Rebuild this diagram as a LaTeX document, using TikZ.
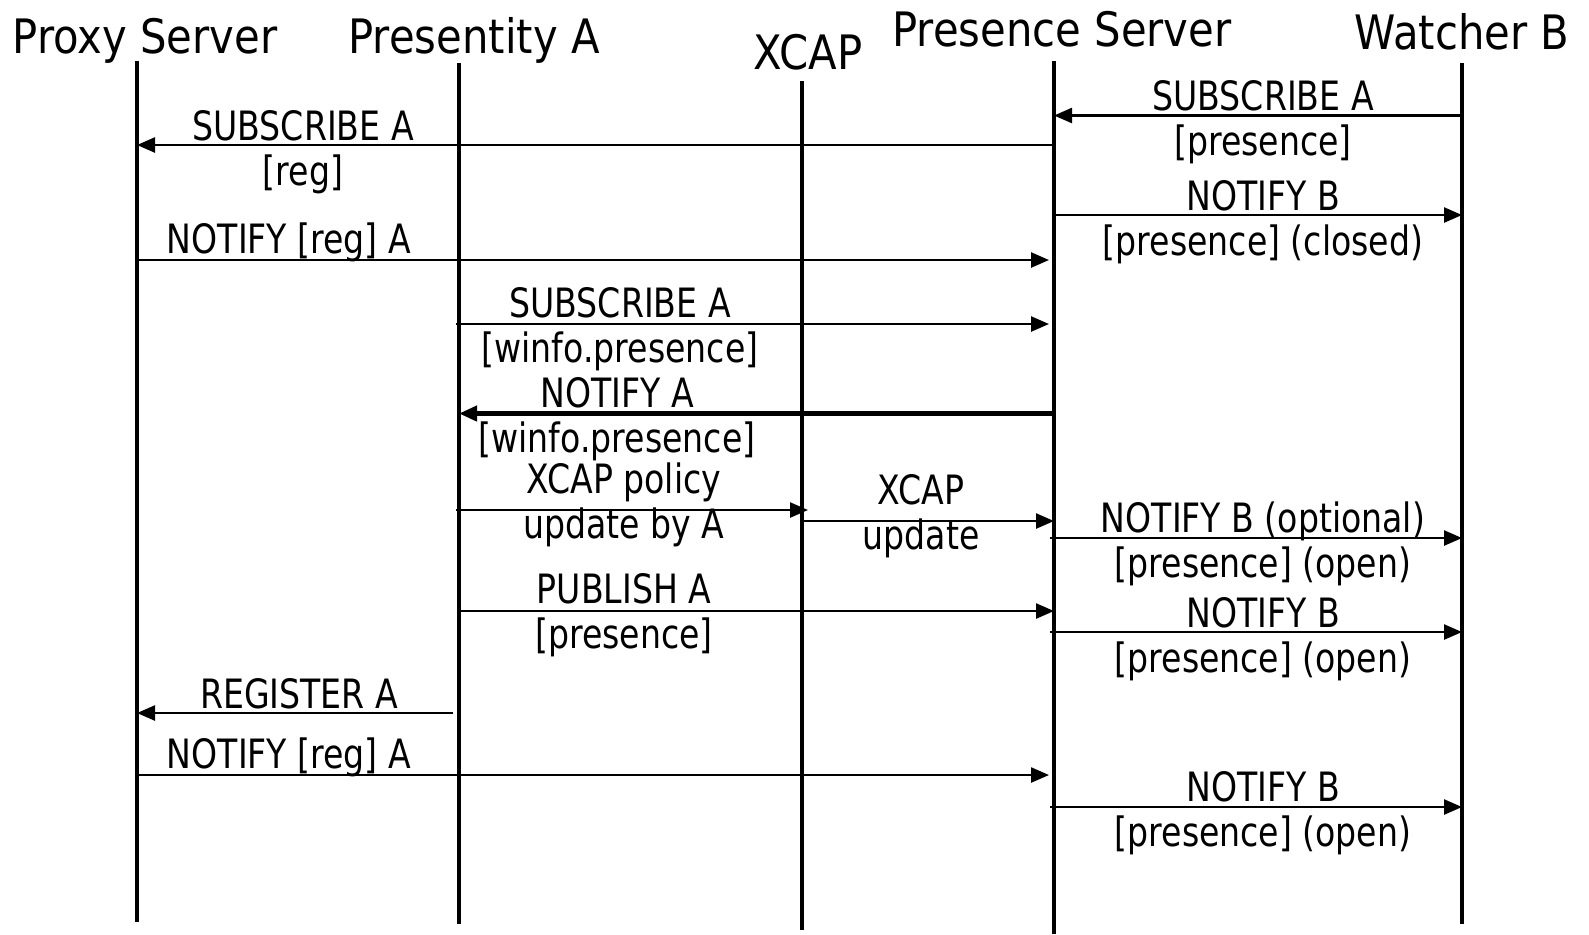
\documentclass[tikz,border=0pt]{standalone}
\usepackage{fontspec}
\setmainfont{DejaVu Sans}[FakeStretch=0.82]
\newfontfamily\headfont{DejaVu Sans}[FakeStretch=0.88]
\usetikzlibrary{arrows.meta}
\tikzset{
  lifeline/.style={line width=1.1pt},
  msg/.style={line width=0.7pt,-{Triangle[length=1.8mm,width=1.5mm]}},
  head/.style={font=\headfont\fontsize{13.5}{16}\selectfont,anchor=base,inner sep=0pt},
  lbl/.style={font=\fontsize{11.5}{14}\selectfont,anchor=base,inner sep=0pt}
}
\begin{document}
\begin{tikzpicture}
    \useasboundingbox (0,0) rectangle (15.89,-9.34);
    % lifelines
    \coordinate (proxyT) at (1.37,-0.61);  \coordinate (proxyB) at (1.37,-9.22);
    \coordinate (presT) at (4.59,-0.63);   \coordinate (presB) at (4.59,-9.24);
    \coordinate (xcapT) at (8.02,-0.81);   \coordinate (xcapB) at (8.02,-9.30);
    \coordinate (psT) at (10.54,-0.61);    \coordinate (psB) at (10.54,-9.34);
    \coordinate (wbT) at (14.62,-0.63);    \coordinate (wbB) at (14.62,-9.24);
    \draw[lifeline] (proxyT) -- (proxyB);
    \draw[lifeline] (presT) -- (presB);
    \draw[lifeline] (xcapT) -- (xcapB);
    \draw[lifeline] (psT) -- (psB);
    \draw[lifeline] (wbT) -- (wbB);
    \node[head] (proxy) at (1.45,-0.53) {Proxy Server};
    \node[head] (pres) at (4.74,-0.53) {Presentity A};
    \node[head] (xcap) at (8.08,-0.69) {XCAP};
    \node[head] (ps) at (10.62,-0.46) {Presence Server};
    \node[head] (wb) at (14.62,-0.49) {Watcher B};
    % messages
    \draw[msg] (wbT |- 0,-1.155) -- (psT |- 0,-1.155);
    \node[lbl] (m1a) at (12.63,-1.105) {SUBSCRIBE A};
    \node[lbl] (m1b) at (12.63,-1.555) {[presence]};
    \draw[msg] (psT |- 0,-1.45) -- (proxyT |- 0,-1.45);
    \node[lbl] (m2a) at (3.03,-1.40) {SUBSCRIBE A};
    \node[lbl] (m2b) at (3.03,-1.85) {[reg]};
    \draw[msg] (psT |- 0,-2.15) -- (wbT |- 0,-2.15);
    \node[lbl] (m3a) at (12.63,-2.10) {NOTIFY B};
    \node[lbl] (m3b) at (12.63,-2.55) {[presence] (closed)};
    \draw[msg] (proxyT |- 0,-2.60) -- ([xshift=-0.05cm]psT |- 0,-2.60);
    \node[lbl] (m4) at (2.89,-2.53) {NOTIFY [reg] A};
    \draw[msg] ([xshift=-0.03cm]presT |- 0,-3.24) -- ([xshift=-0.05cm]psT |- 0,-3.24);
    \node[lbl] (m5a) at (6.20,-3.17) {SUBSCRIBE A};
    \node[lbl] (m5b) at (6.20,-3.62) {[winfo.presence]};
    \draw[msg,line width=1.2pt] (psT |- 0,-4.135) -- (presT |- 0,-4.135);
    \node[lbl] (m6a) at (6.17,-4.07) {NOTIFY A};
    \node[lbl] (m6b) at (6.17,-4.52) {[winfo.presence]};
    \draw[msg] ([xshift=-0.03cm]presT |- 0,-5.10) -- ([xshift=0.06cm]xcapT |- 0,-5.10);
    \node[lbl] (m7a) at (6.24,-4.93) {XCAP policy};
    \node[lbl] (m7b) at (6.24,-5.38) {update by A};
    \draw[msg] (xcapT |- 0,-5.21) -- (psT |- 0,-5.21);
    \node[lbl] (m8a) at (9.21,-5.04) {XCAP};
    \node[lbl] (m8b) at (9.21,-5.49) {update};
    \draw[msg] ([xshift=-0.04cm]psT |- 0,-5.38) -- (wbT |- 0,-5.38);
    \node[lbl] (m9a) at (12.63,-5.32) {NOTIFY B (optional)};
    \node[lbl] (m9b) at (12.63,-5.77) {[presence] (open)};
    \draw[msg] (presT |- 0,-6.11) -- (psT |- 0,-6.11);
    \node[lbl] (m10a) at (6.24,-6.03) {PUBLISH A};
    \node[lbl] (m10b) at (6.24,-6.48) {[presence]};
    \draw[msg] ([xshift=-0.04cm]psT |- 0,-6.32) -- (wbT |- 0,-6.32);
    \node[lbl] (m11a) at (12.63,-6.27) {NOTIFY B};
    \node[lbl] (m11b) at (12.63,-6.72) {[presence] (open)};
    \draw[msg] ([xshift=-0.06cm]presT |- 0,-7.13) -- (proxyT |- 0,-7.13);
    \node[lbl] (m12) at (2.99,-7.08) {REGISTER A};
    \draw[msg] (proxyT |- 0,-7.75) -- ([xshift=-0.05cm]psT |- 0,-7.75);
    \node[lbl] (m13) at (2.89,-7.68) {NOTIFY [reg] A};
    \draw[msg] ([xshift=-0.04cm]psT |- 0,-8.07) -- (wbT |- 0,-8.07);
    \node[lbl] (m14a) at (12.63,-8.01) {NOTIFY B};
    \node[lbl] (m14b) at (12.63,-8.46) {[presence] (open)};
\end{tikzpicture}
\end{document}
